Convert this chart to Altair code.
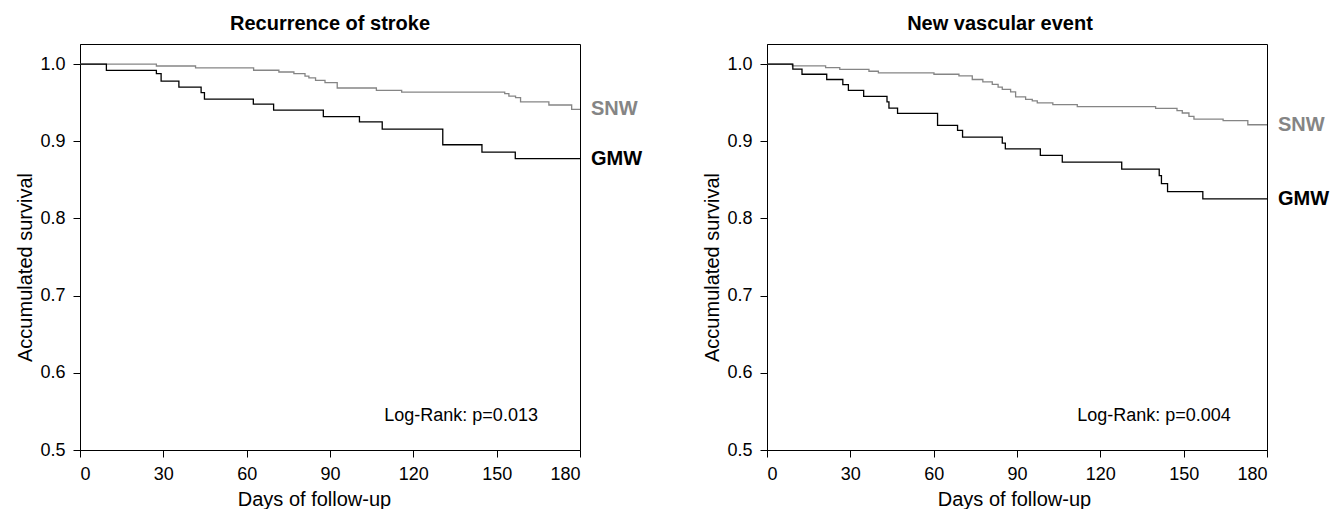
import altair as alt
import pandas as pd

# ---- data ----
stroke_snw_days = [0, 27.5, 41.6, 62.5, 71.6, 77, 81, 82.4, 84.8, 88.2, 92.6, 106.7, 115.8, 152.9, 154.4, 156.8, 158.6, 168.8, 177, 180]
stroke_snw_surv = [1.0, 0.9975, 0.995, 0.992, 0.9897, 0.9875, 0.9845, 0.982, 0.979, 0.976, 0.969, 0.966, 0.9637, 0.9616, 0.9585, 0.9565, 0.951, 0.947, 0.9413, 0.9413]

stroke_gmw_days = [0, 9.5, 27.5, 29.2, 35.6, 43.6, 44.8, 62.4, 69.7, 87.6, 100.6, 108.8, 130.6, 144.7, 156.7, 180]
stroke_gmw_surv = [1.0, 0.9918, 0.9875, 0.978, 0.970, 0.963, 0.9547, 0.948, 0.9404, 0.9318, 0.925, 0.9158, 0.8955, 0.886, 0.8775, 0.8775]

vasc_snw_days = [0, 9.1, 21.1, 26.2, 36.7, 40.1, 60.1, 69.1, 73.9, 77.7, 81.1, 83.2, 84.7, 87.7, 89.5, 93.1, 95.5, 97.3, 102.9, 111.7, 139.9, 147.6, 149.5, 151.9, 153.7, 164.2, 173.1, 180]
vasc_snw_surv = [1.0, 0.9976, 0.9955, 0.993, 0.9907, 0.9885, 0.9868, 0.9847, 0.980, 0.977, 0.9738, 0.970, 0.9673, 0.964, 0.9574, 0.9543, 0.9522, 0.9496, 0.9474, 0.9448, 0.9426, 0.9396, 0.9366, 0.9323, 0.9288, 0.9266, 0.9214, 0.9214]

vasc_gmw_days = [0, 9.3, 12.6, 21.5, 27.3, 29.3, 34.8, 43.2, 43.9, 47, 61.4, 68.6, 70.4, 84.7, 85.8, 98.4, 106.3, 127.7, 141.2, 142.0, 144.2, 156.9, 180]
vasc_gmw_surv = [1.0, 0.9934, 0.9868, 0.980, 0.9734, 0.966, 0.9582, 0.951, 0.943, 0.936, 0.9205, 0.914, 0.9054, 0.8977, 0.890, 0.8816, 0.873, 0.864, 0.8556, 0.8452, 0.8348, 0.8253, 0.8253]

groups = ["SNW", "GMW"]
group_colors = ["#858585", "#000000"]
x_ticks = [0, 30, 60, 90, 120, 150, 180]
y_ticks = [0.5, 0.6, 0.7, 0.8, 0.9, 1.0]
titles = ["Recurrence of stroke", "New vascular event"]
pvalues = ["Log-Rank: p=0.013", "Log-Rank: p=0.004"]
pvalue_pos = [(137.2, 0.537), (139.3, 0.537)]

FONT = "Liberation Sans, Arial, Helvetica, sans-serif"


def make_panel(title, snw_d, snw_s, gmw_d, gmw_s, ptext, ppos, title_dx, xtitle_x):
    df = pd.concat([
        pd.DataFrame({"day": snw_d, "surv": snw_s, "group": "SNW", "order": range(len(snw_d))}),
        pd.DataFrame({"day": gmw_d, "surv": gmw_s, "group": "GMW", "order": range(len(gmw_d))}),
    ])
    ends = pd.DataFrame({
        "day": [snw_d[-1], gmw_d[-1]],
        "surv": [snw_s[-1], gmw_s[-1]],
        "group": ["SNW", "GMW"],
    })
    ann = pd.DataFrame({"day": [ppos[0]], "surv": [ppos[1]], "label": [ptext]})

    x = alt.X("day:Q", scale=alt.Scale(domain=[0, 180], nice=False),
              axis=alt.Axis(values=x_ticks, title="Days of follow-up", titleX=xtitle_x,
                            titlePadding=6))
    y = alt.Y("surv:Q", scale=alt.Scale(domain=[0.5, 1.026], nice=False, zero=False),
              axis=alt.Axis(values=y_ticks, format=".1f", title="Accumulated survival", titleY=223))
    color = alt.Color("group:N", scale=alt.Scale(domain=groups, range=group_colors), legend=None)

    lines = alt.Chart(df).mark_line(interpolate="step-after", strokeWidth=1.3).encode(
        x=x, y=y, color=color, detail="group:N", order="order:Q")
    labels = alt.Chart(ends).mark_text(align="left", baseline="middle", dx=11,
                                       fontSize=20, fontWeight="bold", font=FONT).encode(
        x="day:Q", y="surv:Q", text="group:N", color=color)
    note = alt.Chart(ann).mark_text(align="center", baseline="alphabetic",
                                    fontSize=18, font=FONT, color="black").encode(
        x="day:Q", y="surv:Q", text="label:N")
    return alt.layer(lines, labels, note).properties(
        width=500, height=406,
        title=alt.TitleParams(title, dx=title_dx))


left = make_panel(titles[0], stroke_snw_days, stroke_snw_surv, stroke_gmw_days, stroke_gmw_surv,
                  pvalues[0], pvalue_pos[0], 0, 234)
right = make_panel(titles[1], vasc_snw_days, vasc_snw_surv, vasc_gmw_days, vasc_gmw_surv,
                   pvalues[1], pvalue_pos[1], -17, 247)

chart = alt.hconcat(left, right).properties(
    bounds="flush", spacing=187,
    padding={"left": 7, "top": 5, "right": 5, "bottom": 5},
).configure_view(
    stroke="black", strokeWidth=1
).configure_axis(
    grid=False, domainColor="black", tickColor="black", tickSize=7,
    labelFont=FONT, labelFontSize=18, labelColor="black", labelPadding=8,
    titleFont=FONT, titleFontSize=20, titleFontWeight="normal", titleColor="black",
).configure_title(
    font=FONT, fontSize=20, fontWeight="bold", color="black", anchor="middle", offset=10
)

chart.save("out.html", embed_options={"renderer": "svg", "actions": False})
